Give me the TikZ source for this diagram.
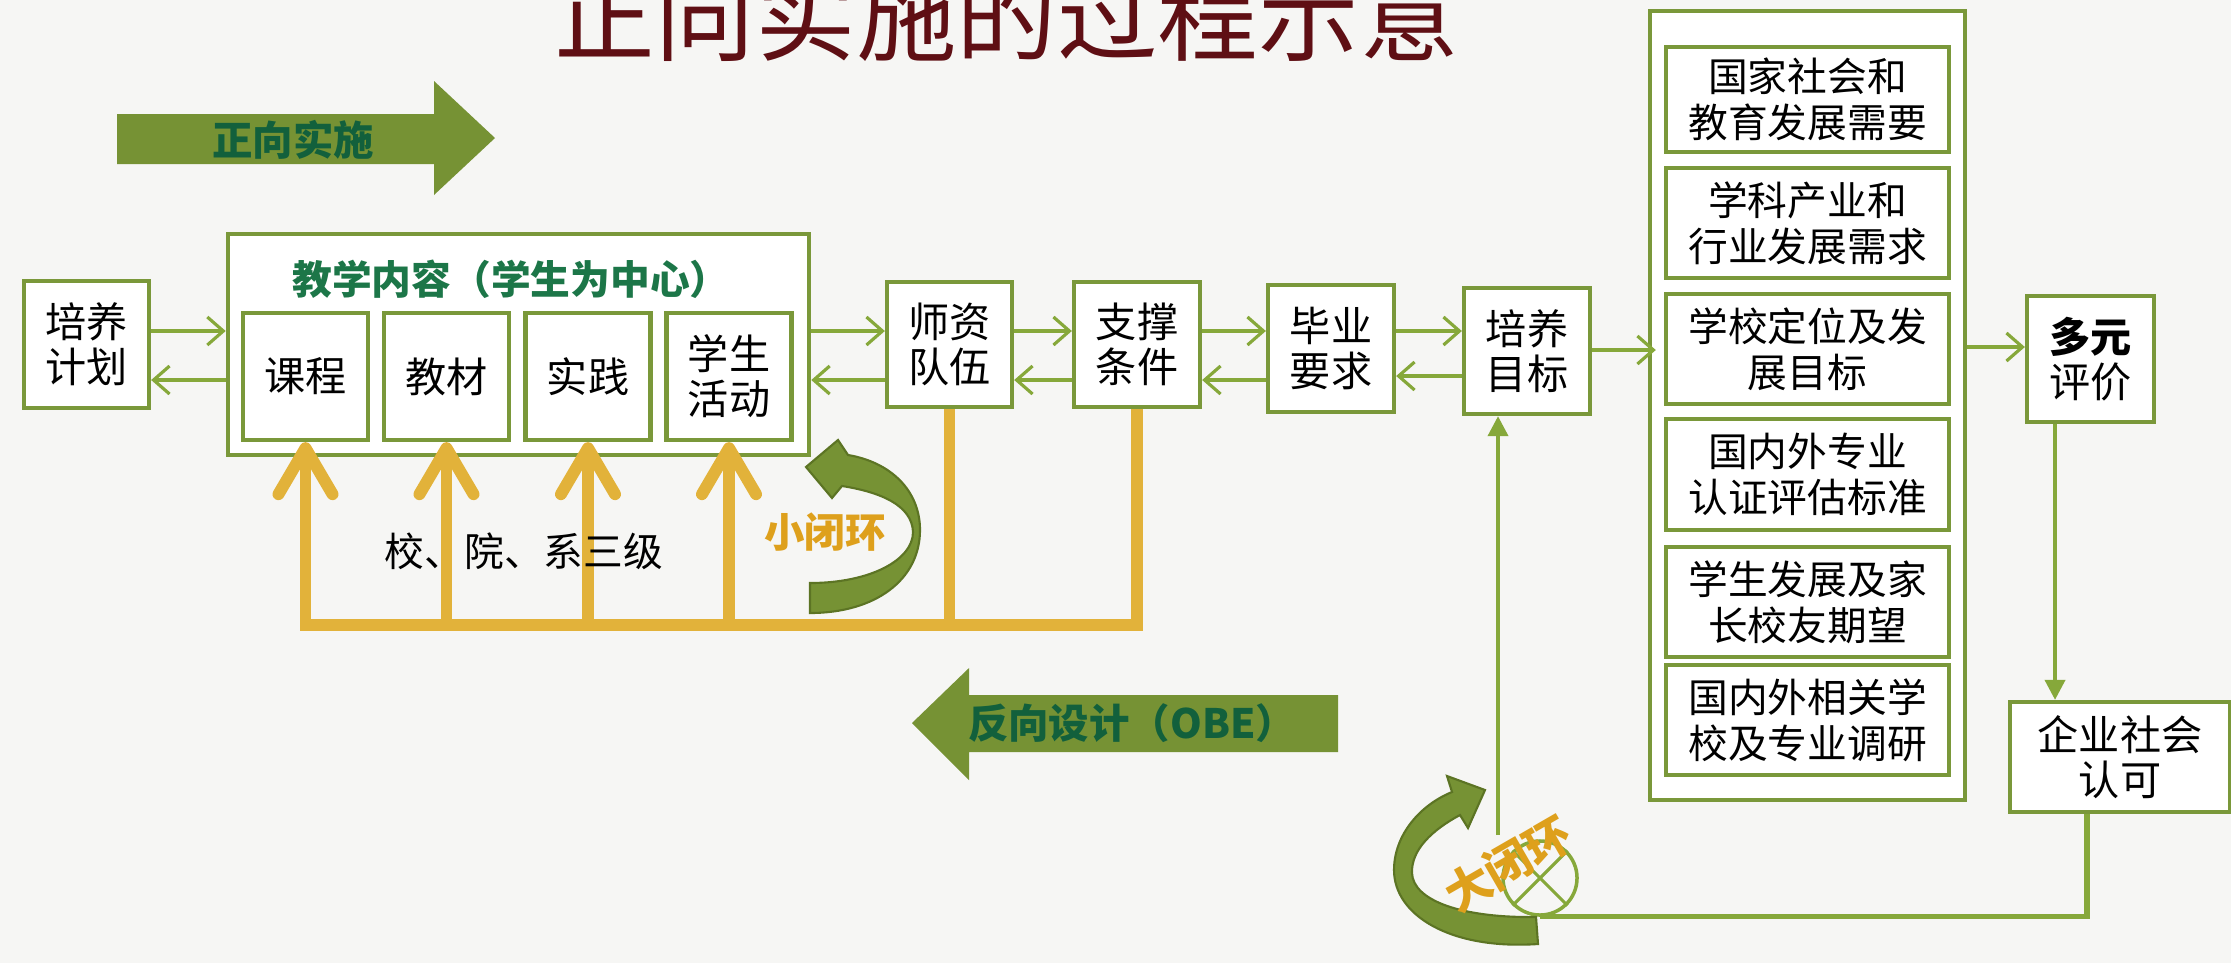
\documentclass[tikz,border=0pt]{standalone}
\usepackage{fontspec}
\setmainfont{Noto Sans CJK SC}
\usetikzlibrary{arrows.meta}
\definecolor{bg}{RGB}{246,246,244}
\definecolor{boxg}{RGB}{122,152,58}
\definecolor{lineg}{RGB}{134,168,58}
\definecolor{olive}{RGB}{118,146,52}
\definecolor{oliveD}{RGB}{92,116,36}
\definecolor{ylw}{RGB}{226,178,58}
\definecolor{ttl}{RGB}{95,15,20}
\definecolor{tealg}{RGB}{28,118,72}
\definecolor{arrtxt}{RGB}{18,96,60}
\definecolor{loopy}{RGB}{222,160,28}
\tikzset{
  box/.style={draw=boxg, line width=1.2pt, fill=white, align=center, inner sep=0pt,
    font=\fontsize{11.7pt}{12.8pt}\selectfont},
  rbox/.style={box, minimum width=2.83cm, minimum height=1.10cm,
    font=\fontsize{11.3pt}{13pt}\selectfont},
  con/.style={draw=lineg, line width=0.9pt, -{Straight Barb[length=1.6mm,width=2.8mm]}},
  fcon/.style={draw=lineg, line width=1.1pt, -{Triangle[length=2mm,width=2mm]}},
  ybar/.style={draw=ylw, line width=3.4pt},
  yarrow/.style={ybar, -{Straight Barb[length=4.6mm,width=5.4mm,round]}},
  loopshape/.style={fill=olive, draw=oliveD, line width=0.6pt},
  looptext/.style={text=loopy, font=\fontsize{11.5pt}{12pt}\selectfont\bfseries},
  bigarrow/.style={fill=olive},
  arrlabel/.style={text=arrtxt, font=\fontsize{11.5pt}{12pt}\selectfont\bfseries},
}
\begin{document}
\begin{tikzpicture}[x=0.01cm,y=-0.01cm]
\useasboundingbox (0,0) rectangle (2231,963);
\fill[bg] (0,0) rectangle (2231,963);
\clip (0,0) rectangle (2231,963);

% title
\node[anchor=base, text=ttl, inner sep=0pt, font=\fontsize{28.6pt}{30pt}\selectfont] (title) at (1007,53) {正向实施的过程示意};

% big direction arrows
\fill[bigarrow] (117,114) -- (434,114) -- (434,81) -- (495,138) -- (434,195) -- (434,164) -- (117,164) -- cycle;
\node[arrlabel] (zx) at (293,140) {正向实施};
\fill[bigarrow] (1338,695) -- (969,695) -- (969,668) -- (912,723) -- (969,780) -- (969,752) -- (1338,752) -- cycle;
\node[arrlabel] (fx) at (1132,723) {反向设计（OBE）};

% left part
\node[box, minimum width=1.25cm, minimum height=1.27cm] (jh) at (86.5,344.5) {培养\\计划};
\node[box, minimum width=5.81cm, minimum height=2.21cm] (jx) at (518.5,344.5) {};
\node[text=tealg, font=\fontsize{11.3pt}{12pt}\selectfont\bfseries] (jxt) at (511,279) {教学内容（学生为中心）};
\node[box, minimum width=1.25cm, minimum height=1.27cm] (kc) at (305.5,376.5) {课程};
\node[box, minimum width=1.25cm, minimum height=1.27cm] (jc) at (446.5,376.5) {教材};
\node[box, minimum width=1.25cm, minimum height=1.27cm] (sj) at (588,376.5) {实践};
\node[box, minimum width=1.25cm, minimum height=1.27cm] (xs) at (729,376.5) {学生\\活动};

\node[box, minimum width=1.25cm, minimum height=1.25cm] (sz) at (949.5,344.5) {师资\\队伍};
\node[box, minimum width=1.26cm, minimum height=1.25cm] (zc) at (1137,344.5) {支撑\\条件};
\node[box, minimum width=1.26cm, minimum height=1.27cm] (by) at (1331,348.5) {毕业\\要求};
\node[box, minimum width=1.26cm, minimum height=1.26cm] (pm) at (1527,351) {培养\\目标};

% right column
\node[box, minimum width=3.15cm, minimum height=7.89cm] (R) at (1807.5,405.5) {};
\node[rbox, minimum height=1.05cm] (r1) at (1807.5,99.5) {国家社会和\\教育发展需要};
\node[rbox] (r2) at (1807.5,223) {学科产业和\\行业发展需求};
\node[rbox] (r3) at (1807.5,349) {学校定位及发\\展目标};
\node[rbox, minimum height=1.11cm] (r4) at (1807.5,474.5) {国内外专业\\认证评估标准};
\node[rbox] (r5) at (1807.5,602) {学生发展及家\\长校友期望};
\node[rbox] (r6) at (1807.5,720) {国内外相关学\\校及专业调研};

\node[box, minimum width=1.27cm, minimum height=1.26cm] (dy) at (2090.5,359) {{\bfseries 多元}\\评价};
\node[box, minimum width=2.2cm, minimum height=1.1cm] (qy) at (2120,757) {企业社会\\认可};

% horizontal connectors
\coordinate (ya) at (0,331);
\coordinate (yb) at (0,380);
\draw[con] (jh.east |- ya) -- (jx.west |- ya);
\draw[con] (jx.west |- yb) -- (jh.east |- yb);
\draw[con] (jx.east |- ya) -- (sz.west |- ya);
\draw[con] (sz.west |- yb) -- (jx.east |- yb);
\draw[con] (sz.east |- ya) -- (zc.west |- ya);
\draw[con] (zc.west |- yb) -- (sz.east |- yb);
\draw[con] (zc.east |- ya) -- (by.west |- ya);
\draw[con] (by.west |- yb) -- (zc.east |- yb);
\draw[con] (by.east |- ya) -- (pm.west |- ya);
\coordinate (yc) at (0,376);
\draw[con] (pm.west |- yc) -- (by.east |- yc);
\coordinate (yd) at (0,350);
\draw[con] (pm.east |- yd) -- ([xshift=0.08cm]R.west |- yd);
\coordinate (ye) at (0,347);
\draw[con] (R.east |- ye) -- (dy.west |- ye);

% vertical connectors on the right
\coordinate (xa) at (2055,0);
\draw[fcon] (dy.south -| xa) -- (qy.north -| xa);

% big loop junction
\node[circle, draw=lineg, line width=1pt, minimum size=0.74cm, inner sep=0pt] (sum) at (1540,878) {};
\draw[lineg, line width=0.9pt] (sum.north west) -- (sum.south east);
\draw[lineg, line width=0.9pt] (sum.north east) -- (sum.south west);
\coordinate (xb) at (2087,0);
\draw[draw=lineg, line width=1.5pt] (qy.south -| xb) |- (sum.south);
\coordinate (bl) at (1498,835);
\draw[fcon] (bl) -- (bl |- pm.south);

% yellow feedback (small loop)
\coordinate (yy) at (0,625);
\draw[yarrow] (zc.south) -- (zc.south |- yy) -- (kc.south |- yy) -- (kc.south);
\draw[ybar] (sz.south |- yy) -- (sz.south);
\draw[yarrow] (jc.south |- yy) -- (jc.south);
\draw[yarrow] (sj.south |- yy) -- (sj.south);
\draw[yarrow] (xs.south |- yy) -- (xs.south);
\node[font=\fontsize{11.3pt}{12pt}\selectfont] (lv) at (524,551) {校、院、系三级};

% small loop arrow
\filldraw[loopshape] (810,613) .. controls (875,613) and (920,580) .. (920,530)
  .. controls (920,490) and (890,462) .. (848,455)
  -- (838,440) -- (806,467) -- (832,498) -- (842,486)
  .. controls (880,492) and (912,505) .. (913,532)
  .. controls (913,560) and (870,583) .. (810,583) -- cycle;
\node[looptext] (sl) at (825,532) {小闭环};

% big loop arrow
\filldraw[loopshape] (1538,944) .. controls (1450,950) and (1394,915) .. (1394,870)
  .. controls (1394,835) and (1420,805) .. (1452,792)
  -- (1447,776) -- (1485,790) -- (1468,828) -- (1460,815)
  .. controls (1432,830) and (1411,850) .. (1412,873)
  .. controls (1413,900) and (1460,918) .. (1536,917) -- cycle;
\node[looptext, rotate=30, font=\fontsize{13pt}{14pt}\selectfont\bfseries] (bgl) at (1508,864) {大闭环};
\end{tikzpicture}
\end{document}
